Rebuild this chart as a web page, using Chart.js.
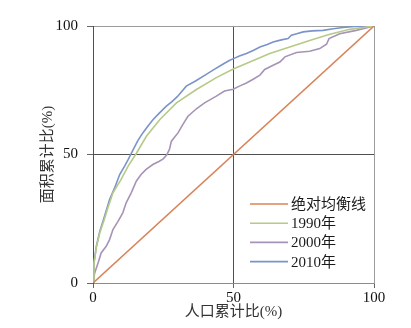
<!DOCTYPE html>
<html>
<head>
<meta charset="utf-8">
<script src="https://cdn.jsdelivr.net/npm/chart.js@4.4.1/dist/chart.umd.min.js"></script>
<style>
  html, body { margin: 0; padding: 0; background: #fff; }
</style>
</head>
<body>
<canvas id="chart" width="411" height="328"></canvas>
<script>
const seriesNames = ['绝对均衡线', '1990年', '2000年', '2010年'];
const colors = ['#d8845a', '#b6ca88', '#a693b6', '#7a93c9'];
const axisTicks = [0, 50, 100];

// cumulative population share (x) against cumulative area share (y), in %
const popEqual = [0, 100];
const areaEqual = [0, 100];

const pop1990 = [0, 0.35, 1.2, 2.4, 4.1, 5.1, 7.1, 10, 12.5, 15.5, 19, 23.8, 29.7, 36.8, 43.9, 49.9, 55.8, 62.9, 70, 77.1, 84.3, 91.4, 100];
const area1990 = [0, 7.8, 14, 19.5, 25, 28.6, 35.1, 40.3, 45.5, 50.6, 57.1, 63.6, 70.1, 75.3, 79.9, 83.3, 86, 89.3, 91.8, 94.4, 96.8, 98.7, 100];

const pop2000 = [0, 0.6, 1.8, 2.9, 4.7, 5.9, 7.1, 8.9, 10.6, 11.8, 13.6, 15.4, 17.1, 18.9, 21.3, 23.6, 25, 26.2, 27.2, 27.9, 30.3, 32, 33.8, 36.8, 39.7, 43.9, 46.8, 49.9, 52.1, 54.6, 57, 59.4, 61.1, 64.1, 66.5, 68.3, 72.4, 77.1, 80.7, 83.1, 84, 87.8, 93.7, 100];
const area2000 = [0, 3.9, 7.8, 11.7, 14.3, 16.9, 20.8, 24, 27.3, 31.2, 35.1, 39.6, 42.2, 44.2, 46.1, 47.4, 48.3, 49.8, 52, 55.2, 58.5, 61.7, 64.9, 67.8, 70.1, 72.7, 74.7, 75.4, 76.6, 77.8, 79.3, 80.9, 83.1, 84.7, 86, 88, 89.7, 90.2, 91.2, 92.9, 95.1, 97, 98.3, 100];

const pop2010 = [0, 0.35, 1.2, 2.4, 4.1, 5.9, 7.7, 9.5, 11.3, 12.5, 14.3, 16, 17.8, 19.5, 21.4, 23.5, 26.1, 28, 30, 33.2, 36.5, 40.3, 43, 46.2, 48.5, 50, 52.1, 54.6, 57, 59.4, 62, 64.1, 67, 69.4, 70.6, 72.5, 74.8, 78, 81.9, 85.5, 89, 93, 100];
const area2010 = [0, 7.8, 14.3, 20.1, 26, 32.5, 37, 42.2, 45.6, 48, 51.9, 55.5, 58.5, 61, 63.6, 66, 68.8, 70.5, 72.5, 76.6, 78.6, 81.2, 83, 85.1, 86.6, 87.3, 88.3, 89.3, 90.5, 91.8, 92.8, 93.8, 94.6, 95.1, 96.4, 97, 97.7, 98.1, 98.3, 98.9, 99.4, 99.8, 100];

const pairs = (xs, ys) => xs.map((x, i) => ({ x, y: ys[i] }));
const xsList = [popEqual, pop1990, pop2000, pop2010];
const ysList = [areaEqual, area1990, area2000, area2010];

const font = { family: "'Liberation Serif', 'Noto Sans CJK SC', serif", size: 15 };

// legend drawn inside the plot, bottom right
const legendBox = {
  id: 'legendBox',
  afterDraw(chart) {
    const ctx = chart.ctx;
    ctx.save();
    ctx.font = `${font.size}px ${font.family}`;
    ctx.textBaseline = 'middle';
    chart.data.datasets.forEach((ds, i) => {
      const y = 204 + i * 19.2;
      ctx.strokeStyle = ds.borderColor;
      ctx.lineWidth = 1.6;
      ctx.beginPath();
      ctx.moveTo(250, y);
      ctx.lineTo(288, y);
      ctx.stroke();
      ctx.fillStyle = '#1a1a1a';
      ctx.fillText(ds.label, 291, y + 1);
    });
    ctx.restore();
  }
};

const lineColor = (ctx) => (ctx.tick && ctx.tick.value === 100 ? '#9c9c9c' : '#505050');

new Chart(document.getElementById('chart'), {
  type: 'scatter',
  data: {
    datasets: seriesNames.map((name, i) => ({
      label: name,
      data: pairs(xsList[i], ysList[i]),
      showLine: true,
      borderColor: colors[i],
      backgroundColor: colors[i],
      borderWidth: 1.6,
      pointRadius: 0,
      tension: 0
    }))
  },
  options: {
    responsive: false,
    animation: false,
    layout: { padding: { top: 26, right: 37, left: 0, bottom: 0 } },
    plugins: { legend: { display: false }, tooltip: { enabled: false } },
    scales: {
      x: {
        type: 'linear', min: 0, max: 100,
        afterBuildTicks: (s) => { s.ticks = axisTicks.map(v => ({ value: v })); },
        ticks: { color: '#111', font, padding: 1, maxRotation: 0 },
        grid: { color: lineColor, tickLength: 5, tickColor: '#666', lineWidth: 1 },
        border: { color: '#8c8c8c' },
        title: { display: true, text: '人口累计比(%)', font, color: '#333', padding: { top: 0, bottom: 7 } },
        afterFit: (s) => { s.height = 45; }
      },
      y: {
        type: 'linear', min: 0, max: 100,
        afterBuildTicks: (s) => { s.ticks = axisTicks.map(v => ({ value: v })); },
        ticks: { color: '#111', font, padding: 9 },
        grid: { color: lineColor, tickLength: 6, tickColor: '#666', lineWidth: 1 },
        border: { color: '#505050' },
        title: { display: true, text: '面积累计比(%)', font, color: '#333', padding: { top: 39, bottom: 0 } },
        afterFit: (s) => { s.width = 93; }
      }
    }
  },
  plugins: [legendBox]
});
</script>
</body>
</html>
